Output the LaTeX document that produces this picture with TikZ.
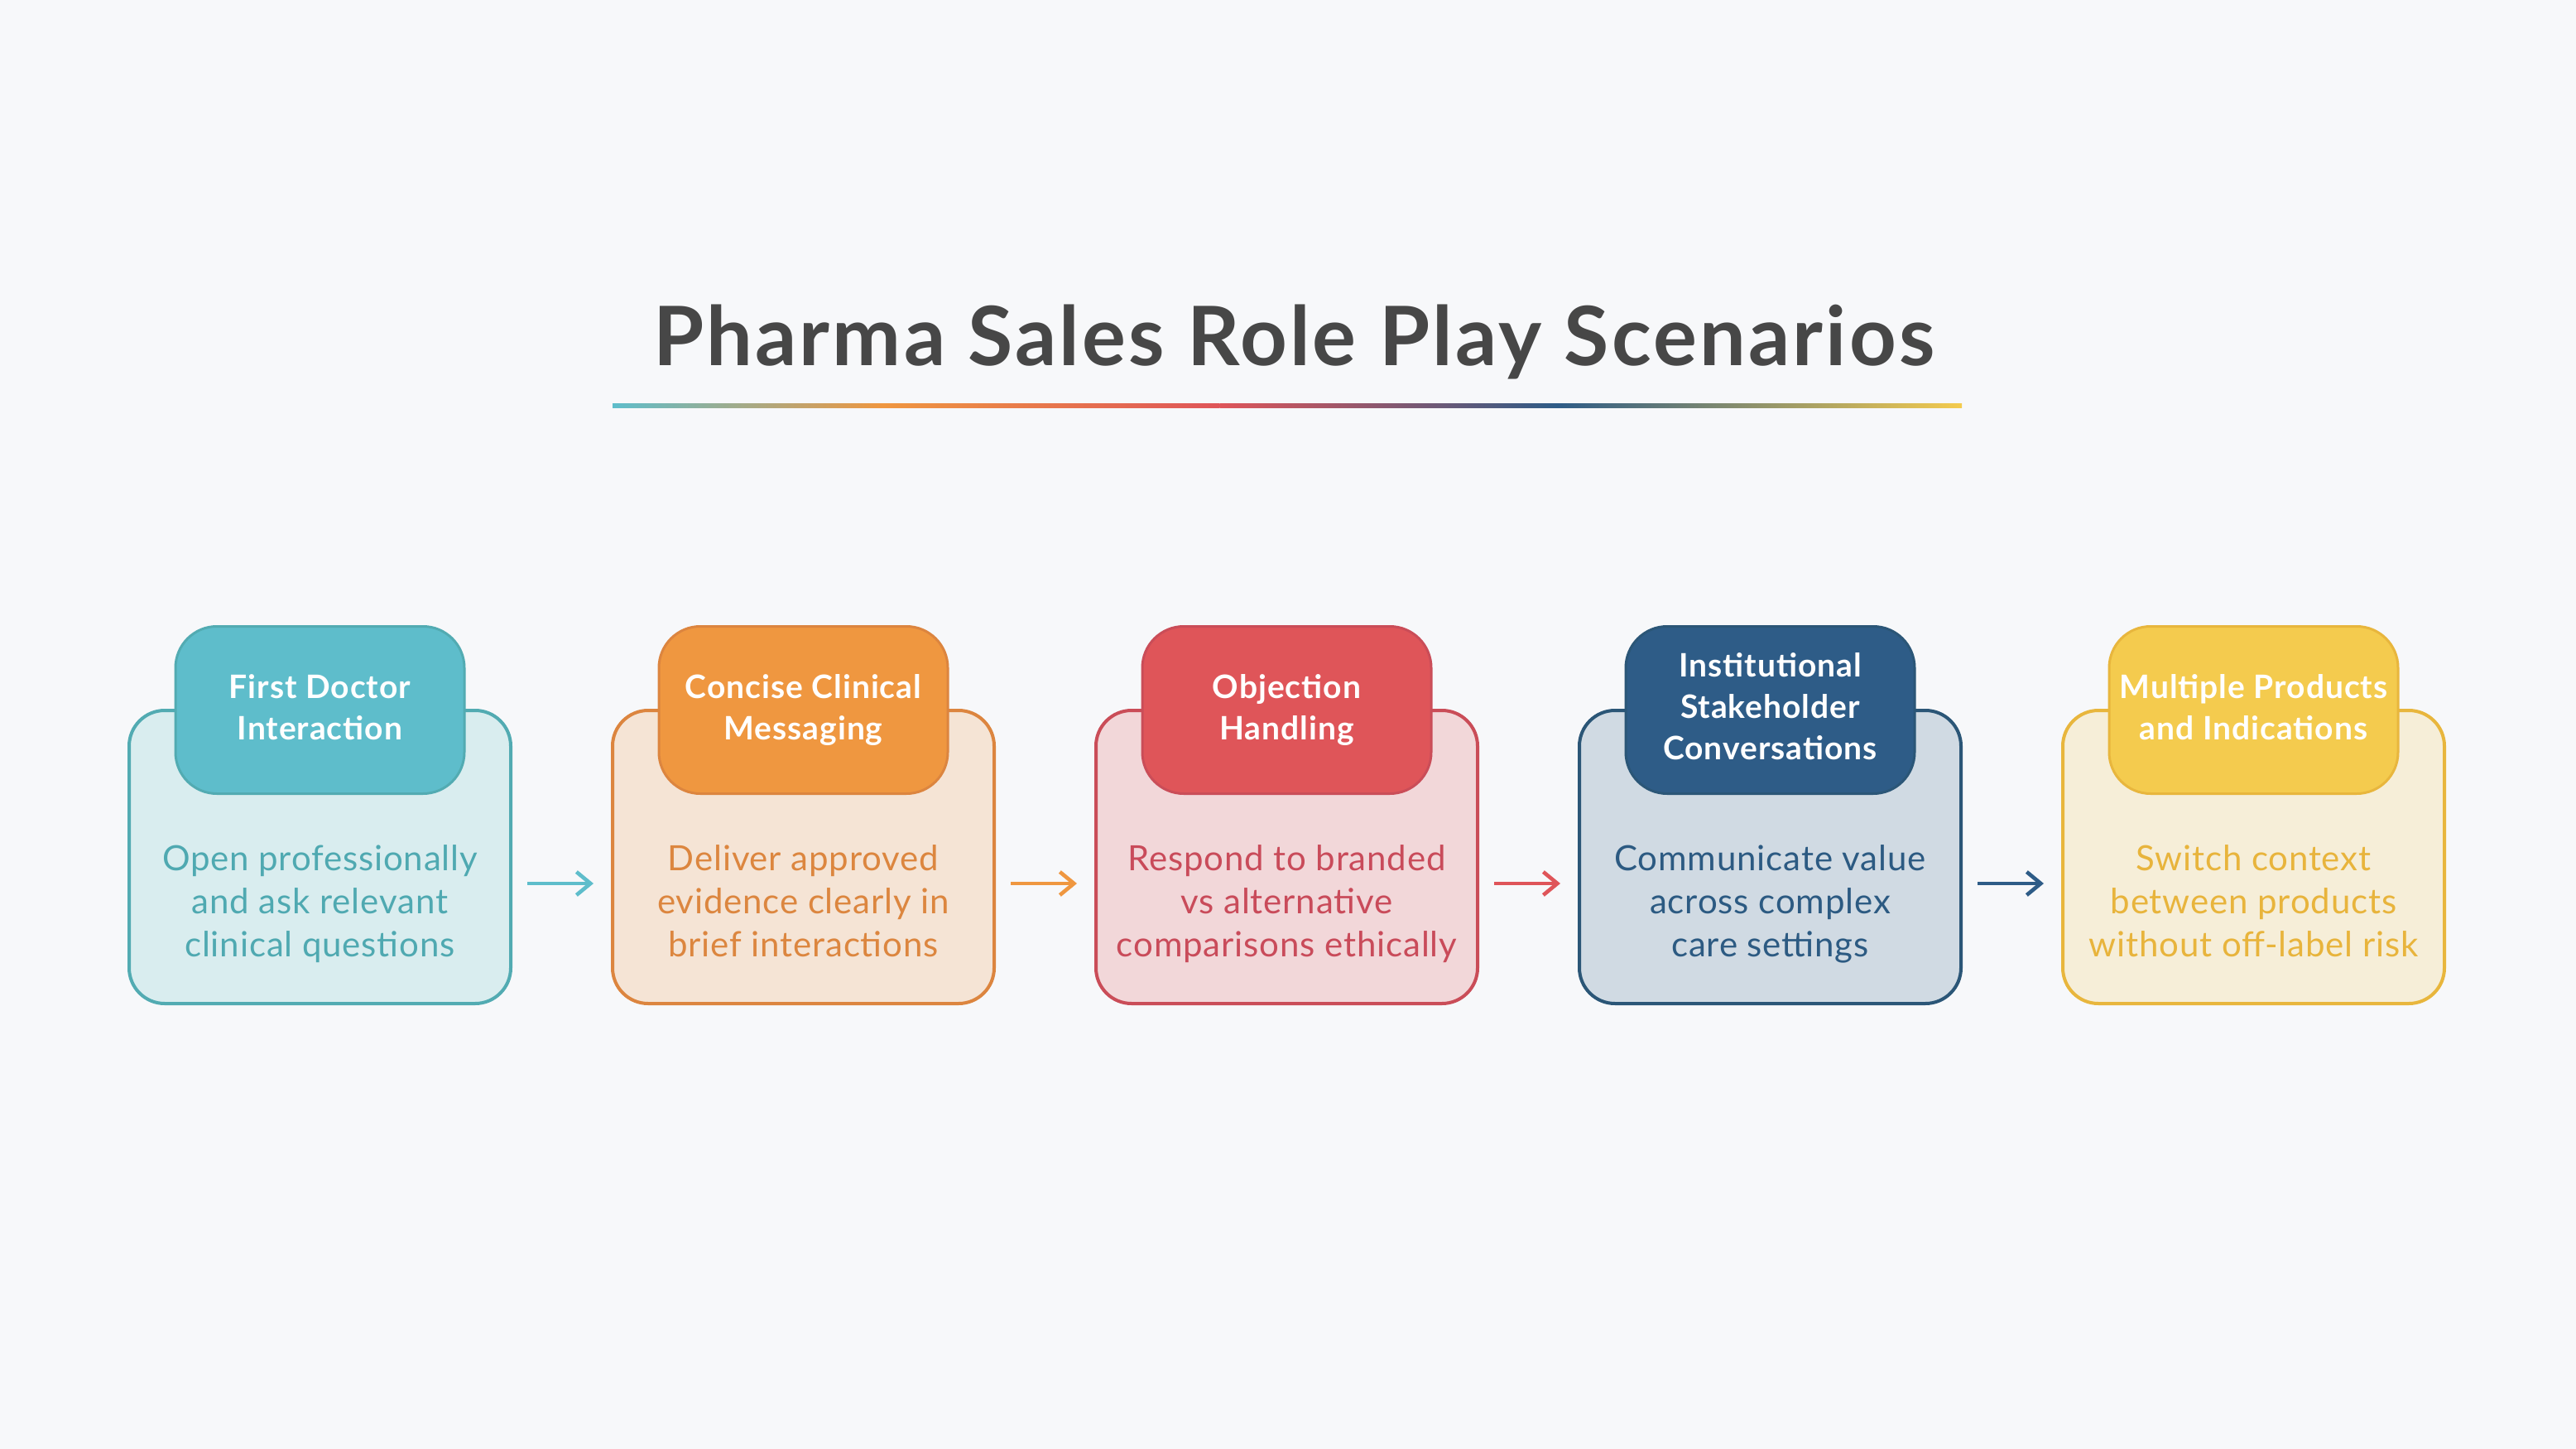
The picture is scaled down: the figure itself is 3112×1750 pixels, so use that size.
\documentclass[tikz,border=0pt]{standalone}
\usepackage{fontspec}
\setmainfont{Lato}
\newfontfamily\titlefont[LetterSpace=3.2]{Lato}
\newfontfamily\headfont[LetterSpace=2.5]{Lato}
\newfontfamily\bodyfont[LetterSpace=2.0]{Lato}
\usetikzlibrary{arrows.meta}
\definecolor{bg}{HTML}{F7F8FA}
\definecolor{titlec}{HTML}{474747}
\definecolor{AH}{HTML}{5EBDCB}\definecolor{AB}{HTML}{52ABB2}\definecolor{AF}{HTML}{D9EDEF}\definecolor{AT}{HTML}{4FA9B1}
\definecolor{BH}{HTML}{EF9740}\definecolor{BB}{HTML}{DC853F}\definecolor{BF}{HTML}{F5E4D5}\definecolor{BT}{HTML}{DC863F}
\definecolor{CH}{HTML}{DF5559}\definecolor{CB}{HTML}{CA4D58}\definecolor{CF}{HTML}{F2D7D9}\definecolor{CT}{HTML}{C94B5A}
\definecolor{DH}{HTML}{2E5C87}\definecolor{DB}{HTML}{2B5677}\definecolor{DF}{HTML}{D0DAE3}\definecolor{DT}{HTML}{2C5A82}
\definecolor{EH}{HTML}{F4CB4E}\definecolor{EB}{HTML}{E8B63D}\definecolor{EF}{HTML}{F6EED8}\definecolor{ET}{HTML}{E8B43C}
\tikzset{
  outerbox/.style={draw=#1B, fill=#1F, line width=2pt, rounded corners=21.5pt,
    minimum width=230.5pt, minimum height=177pt, inner sep=0pt},
  headbox/.style={draw=#1B, fill=#1H, line width=1.5pt, rounded corners=25pt,
    minimum width=174.5pt, minimum height=101pt, inner sep=0pt},
  headtxt/.style={text=white, inner sep=0pt,
    font=\fontsize{19.5}{25}\selectfont\headfont\bfseries, align=center,
    execute at begin node=\strut, execute at end node=\strut},
  bodytxt/.style={text=#1T, font=\fontsize{21}{26}\selectfont\bodyfont, align=center, inner sep=0pt,
    execute at begin node=\strut, execute at end node=\strut},
  flow/.style={draw=#1H, line width=2.3pt, -{Straight Barb[length=8.5pt,width=14pt]}},
}
\begin{document}
\begin{tikzpicture}[x=0.5pt,y=-0.5pt]
\fill[bg] (0,0) rectangle (3112,1750);
\useasboundingbox (0,0) rectangle (3112,1750);
\node[text=titlec, anchor=base, inner sep=0pt, font=\fontsize{49.5}{59}\selectfont\titlefont\bfseries] (title) at (1563,441) {Pharma Sales Role Play Scenarios};
\shade[left color=AH, right color=BH] (740,487.5) rectangle (1066,492.5);
\shade[left color=BH, right color=CH] (1066,487.5) rectangle (1473.5,492.5);
\shade[left color=CH, right color=DH] (1473.5,487.5) rectangle (1881,492.5);
\shade[left color=DH, right color=EH] (1881,487.5) rectangle (2370,492.5);

\node[outerbox=A] (b1) at (386.5,1035) {};
\node[outerbox=B] (b2) at (970.5,1035) {};
\node[outerbox=C] (b3) at (1554.5,1035) {};
\node[outerbox=D] (b4) at (2138.5,1035) {};
\node[outerbox=E] (b5) at (2722.5,1035) {};

\node[headbox=A] (h1) at (386.5,857.5) {};
\node[headbox=B] (h2) at (970.5,857.5) {};
\node[headbox=C] (h3) at (1554.5,857.5) {};
\node[headbox=D] (h4) at (2138.5,857.5) {};
\node[headbox=E] (h5) at (2722.5,857.5) {};

\node[headtxt] (l1) at ([yshift=-2pt]h1.center) {First Doctor\\Interaction};
\node[headtxt] (l2) at ([yshift=-2pt]h2.center) {Concise Clinical\\Messaging};
\node[headtxt] (l3) at ([yshift=-2pt]h3.center) {Objection\\Handling};
\node[headtxt] (l4) at ([yshift=-1.5pt]h4.center) {Institutional\\Stakeholder\\Conversations};
\node[headtxt] (l5) at ([yshift=-2pt]h5.center) {Multiple Products\\and Indications};

\node[bodytxt=A] (t1) at (386.5,1096) {Open professionally\\and ask relevant\\clinical questions};
\node[bodytxt=B] (t2) at (970.5,1096) {Deliver approved\\evidence clearly in\\brief interactions};
\node[bodytxt=C] (t3) at (1554.5,1096) {Respond to branded\\vs alternative\\comparisons ethically};
\node[bodytxt=D] (t4) at (2138.5,1096) {Communicate value\\across complex\\care settings};
\node[bodytxt=E] (t5) at (2722.5,1096) {Switch context\\between products\\without off-label risk};

\draw[flow=A] ([xshift=9pt,yshift=-16pt]b1.east) -- ([xshift=-10.5pt,yshift=-16pt]b2.west);
\draw[flow=B] ([xshift=9pt,yshift=-16pt]b2.east) -- ([xshift=-10.5pt,yshift=-16pt]b3.west);
\draw[flow=C] ([xshift=9pt,yshift=-16pt]b3.east) -- ([xshift=-10.5pt,yshift=-16pt]b4.west);
\draw[flow=D] ([xshift=9pt,yshift=-16pt]b4.east) -- ([xshift=-10.5pt,yshift=-16pt]b5.west);
\end{tikzpicture}
\end{document}
